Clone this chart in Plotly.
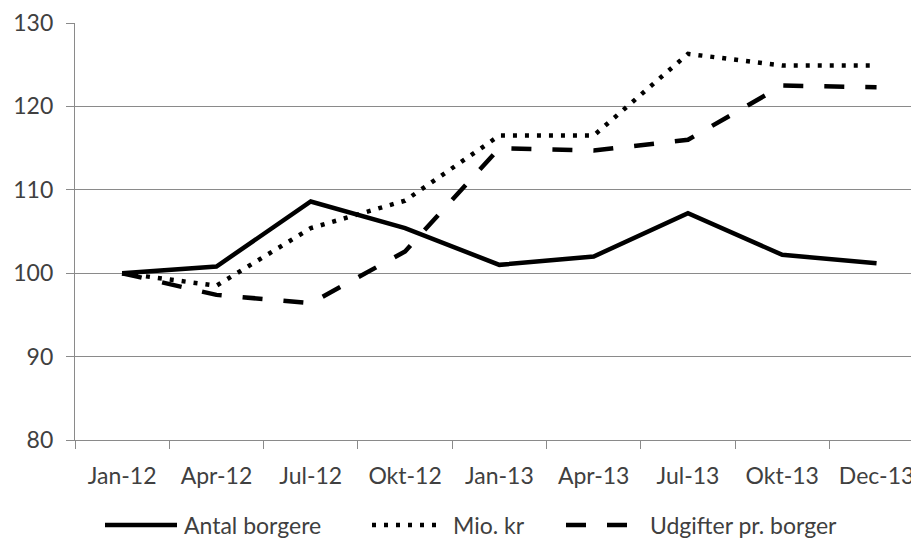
import plotly.graph_objects as go

categories = ["Jan-12", "Apr-12", "Jul-12", "Okt-12", "Jan-13", "Apr-13", "Jul-13", "Okt-13", "Dec-13"]
antal_borgere = [100.0, 100.8, 108.6, 105.4, 101.0, 102.0, 107.2, 102.2, 101.2]
mio_kr = [100.0, 98.5, 105.4, 108.7, 116.5, 116.5, 126.3, 124.9, 124.9]
udgifter_pr_borger = [100.0, 97.4, 96.4, 102.6, 115.0, 114.7, 116.0, 122.5, 122.3]
series_names = ["Antal borgere", "Mio. kr", "Udgifter pr. borger"]
y_ticks = [80, 90, 100, 110, 120, 130]

FONT = "Lato"
TXT = "#404040"
GRID = "#8a8a8a"

# page body has an 8px margin: shrink the figure and shift coordinates by 8px
OFF = 8
W, H = 919 - OFF, 542 - OFF
L, R, T, B = 75 - OFF, 0, 23 - OFF, 102
PW, PH = W - L - R, H - T - B


def px_x(px):
    return (px - OFF - L) / PW


def px_y(py):
    return (H - B - (py - OFF)) / PH


styles = [
    dict(color="black", width=4.5, dash="solid"),
    dict(color="black", width=4.5, dash="4px,8px"),
    dict(color="black", width=4.5, dash="20px,21px"),
]
series = [antal_borgere, mio_kr, udgifter_pr_borger]

fig = go.Figure()
for name, vals, st in zip(series_names, series, styles):
    fig.add_trace(go.Scatter(x=categories, y=vals, mode="lines", name=name,
                             line=st, showlegend=False))

# manual legend (long line samples like the original)
legend_items = [
    (105, 177, 183),
    (372, 437, 452),
    (566, 631, 649),
]
for (x0, x1, tx), name, st in zip(legend_items, series_names, styles):
    fig.add_shape(type="line", xref="paper", yref="paper",
                  x0=px_x(x0), x1=px_x(x1), y0=px_y(525), y1=px_y(525),
                  line=dict(color="black", width=st["width"], dash=st["dash"]))
    fig.add_annotation(xref="paper", yref="paper", x=px_x(tx), y=px_y(525),
                       text=name, showarrow=False, xanchor="left", yanchor="middle",
                       font=dict(family=FONT, size=23, color=TXT), borderpad=0)

fig.update_layout(
    width=W, height=H,
    margin=dict(l=L, r=R, t=T, b=B),
    paper_bgcolor="white", plot_bgcolor="white",
    font=dict(family=FONT, size=23, color=TXT),
    showlegend=False,
)
fig.update_xaxes(
    type="category", range=[-0.5, 8.45],
    tickson="boundaries", ticks="outside", ticklen=8, tickcolor=GRID, tickwidth=1.3,
    showline=True, linecolor=GRID, linewidth=1.3, showgrid=False,
    ticklabelstandoff=15,
    tickfont=dict(family=FONT, size=23, color=TXT),
)
fig.update_yaxes(
    range=[80, 130], tickvals=y_ticks,
    ticks="outside", ticklen=8, tickcolor=GRID, tickwidth=1.3,
    showline=True, linecolor=GRID, linewidth=1.3,
    showgrid=True, gridcolor=GRID, gridwidth=1.3, zeroline=False,
    ticklabelstandoff=8,
    tickfont=dict(family=FONT, size=23, color=TXT),
)

fig.write_html("out.html")
